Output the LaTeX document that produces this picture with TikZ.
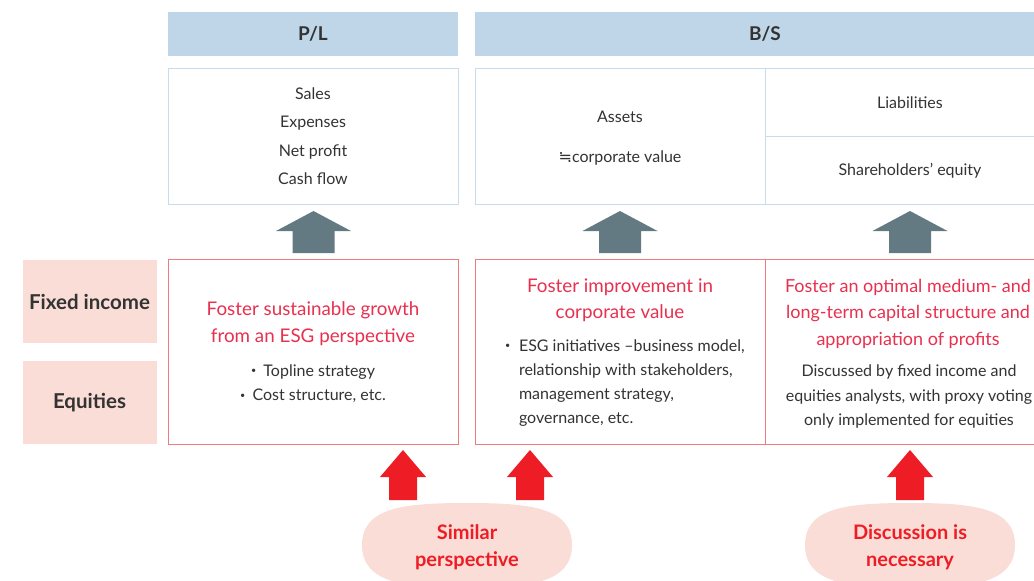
\documentclass[tikz,border=0pt]{standalone}
\usepackage{fontspec}
\setmainfont{Lato}
\newfontfamily\symfont{DejaVu Sans}
\definecolor{hdrblue}{HTML}{BED6E8}
\definecolor{boxblue}{HTML}{C8DDEC}
\definecolor{pinkfill}{HTML}{FADDD6}
\definecolor{redborder}{HTML}{EF7B7F}
\definecolor{titlered}{HTML}{E8304F}
\definecolor{arrowred}{HTML}{EE1D25}
\definecolor{arrowgray}{HTML}{647A83}
\definecolor{txt}{HTML}{333333}
\newcommand\blkarrow[7]{% x, tip y, head base y, bottom y, head half, shaft half, colour
  \fill[#7] (#1,#2) -- (#1+#5,#3) -- (#1+#6,#3) -- (#1+#6,#4) -- (#1-#6,#4) -- (#1-#6,#3) -- (#1-#5,#3) -- cycle;}
\newcommand\blobshape[1]{% x centre
  \fill[pinkfill] (#1-105,545) .. controls (#1-105,507) and (#1-62,503) .. (#1,503)
    .. controls (#1+62,503) and (#1+105,507) .. (#1+105,545)
    .. controls (#1+105,583) and (#1+62,588) .. (#1,588)
    .. controls (#1-62,588) and (#1-105,583) .. cycle;}
\newcommand\smbul{\raisebox{0.28ex}{\fontsize{9}{9}\selectfont•}\hspace{0.45em}}
\begin{document}
\begin{tikzpicture}[x=1pt,y=-1pt,
  every node/.style={inner sep=0pt, outer sep=0pt, text=txt},
  hdr/.style={fill=hdrblue, minimum height=44pt},
  hdrtxt/.style={font=\fontsize{19}{22}\selectfont\bfseries},
  bluebox/.style={draw=boxblue, line width=1pt, fill=white},
  redbox/.style={draw=redborder, line width=1pt, fill=white},
  lbl/.style={fill=pinkfill, minimum width=134pt, font=\fontsize{20.5}{24}\selectfont\bfseries},
  body/.style={font=\fontsize{16}{24.5}\selectfont, align=center},
  title/.style={font=\fontsize{18.8}{26.5}\selectfont, text=titlered, align=center},
  blobtxt/.style={font=\fontsize{20}{27}\selectfont\bfseries, text=arrowred, align=center}
]
\useasboundingbox (0,0) rectangle (1034,581);
\clip (0,0) rectangle (1034,581);

% headers
\node[hdr, minimum width=290pt] (pl) at (313,34) {};
\node[hdrtxt] (plt) at (313,34) {P/L};
\node[hdr, minimum width=590pt] (bs) at (770,34) {};
\node[hdrtxt] (bst) at (765,34) {B/S};

% top boxes
\node[bluebox, minimum width=290pt, minimum height=136pt] (plbox) at (313,136) {};
\node[body, font=\fontsize{16}{28.5}\selectfont] (pltxt) at (313,136) {Sales\\Expenses\\Net profit\\Cash flow};
\node[bluebox, minimum width=290pt, minimum height=136pt] (assets) at (620,136) {};
\node[body, font=\fontsize{16}{40}\selectfont] (assettxt) at (620,138) {Assets\\{\symfont ≒}corporate value};
\node[bluebox, minimum width=295pt, minimum height=68pt] (liab) at (912.5,102) {};
\node[body] (liabtxt) at (910,103) {Liabilities};
\node[bluebox, minimum width=295pt, minimum height=68pt] (equity) at (912.5,170) {};
\node[body] (eqtxt) at (910,171) {Shareholders’ equity};

% gray arrows
\blkarrow{313.5}{211}{231}{253}{37.5}{21}{arrowgray}
\blkarrow{620}{211}{231}{253}{37.5}{21}{arrowgray}
\blkarrow{910}{211}{231}{253}{37.5}{21}{arrowgray}

% labels
\node[lbl, minimum height=83pt] (fi) at (89.5,301.5) {Fixed income};
\node[lbl, minimum height=83pt] (eq) at (89.5,402.5) {Equities};

% red boxes
\node[redbox, minimum width=290pt, minimum height=185pt] (r1) at (313,351.5) {};
\node[redbox, minimum width=290pt, minimum height=185pt] (r2) at (620,351.5) {};
\node[redbox, minimum width=295pt, minimum height=185pt] (r3) at (912.5,351.5) {};

\node[title] (t1) at (313,323.5) {Foster sustainable growth\\from an ESG perspective};
\node[body] (b1) at (313,383.5) {\smbul Topline strategy\\\smbul Cost structure, etc.};

\node[title] (t2) at (620,300.5) {Foster improvement in\\corporate value};
\node[font=\fontsize{16}{24}\selectfont, anchor=west] (b2a) at (505,347.5) {\smbul};
\node[font=\fontsize{16}{24}\selectfont, align=left, anchor=west] (b2) at (519,383.5) {ESG initiatives –business model,\\relationship with stakeholders,\\management strategy,\\governance, etc.};

\node[title, font=\fontsize{18}{26.5}\selectfont] (t3) at (908,313.5) {Foster an optimal medium- and\\long-term capital structure and\\appropriation of profits};
\node[body] (b3) at (909,396.5) {Discussed by fixed income and\\equities analysts, with proxy voting\\only implemented for equities};

% red arrows
\blkarrow{403}{450}{477}{500}{23}{14}{arrowred}
\blkarrow{530}{450}{477}{500}{23}{14}{arrowred}
\blkarrow{910}{450}{477}{500}{23}{14}{arrowred}

% blobs
\blobshape{467}
\node[blobtxt] (simt) at (467,547) {Similar\\perspective};
\blobshape{910}
\node[blobtxt] (disct) at (910,547) {Discussion is\\necessary};
\end{tikzpicture}
\end{document}
